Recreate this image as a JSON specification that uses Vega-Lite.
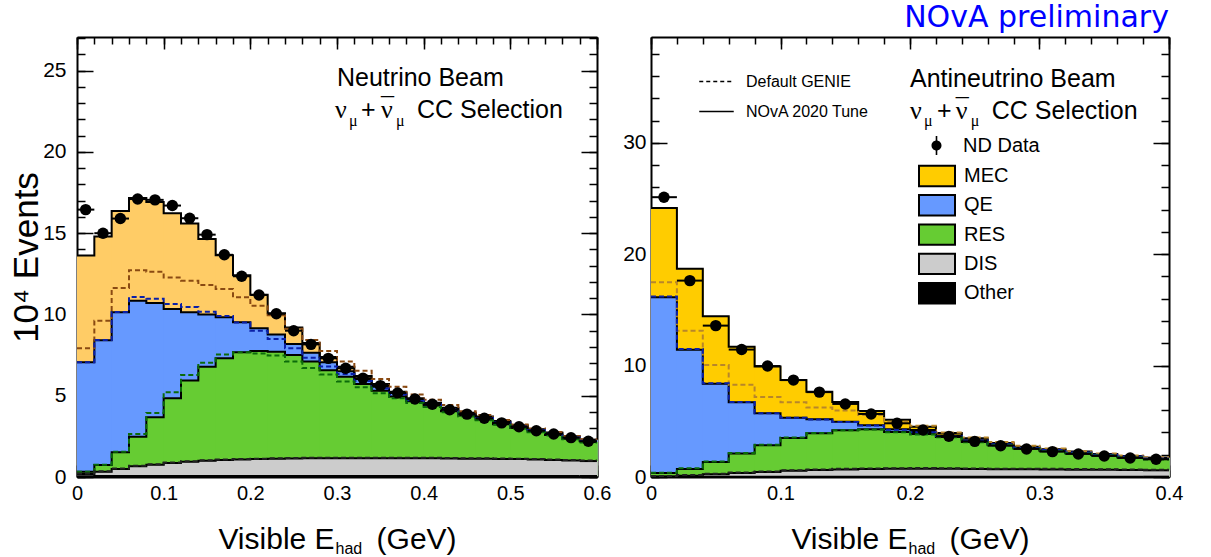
{
 "$schema": "https://vega.github.io/schema/vega-lite/v6.json",
 "background": "white",
 "padding": {"left": 9, "top": 3, "right": 5, "bottom": 0},
 "title": {"text": "NOvA preliminary", "anchor": "end", "fontSize": 30, "font": "DejaVu Sans", "fontWeight": "normal", "color": "#0000ff", "offset": 3, "dx": -14},
 "spacing": 11,
 "datasets": {
  "nu": [
   {"lo":0,"hi":0.02,"c":0.01,"data":16.45,"MEC":13.62,"QE":7.06,"RES":0.33,"DIS":0.18,"Other":0.05,"MECd":7.92,"QEd":7.06,"RESd":0.33,"DISd":0.21},
   {"lo":0.02,"hi":0.04,"c":0.03,"data":15.0,"MEC":14.8,"QE":8.42,"RES":0.74,"DIS":0.33,"Other":0.06,"MECd":9.62,"QEd":8.43,"RESd":0.76,"DISd":0.36},
   {"lo":0.04,"hi":0.06,"c":0.05,"data":15.9,"MEC":16.37,"QE":10.13,"RES":1.52,"DIS":0.49,"Other":0.06,"MECd":11.63,"QEd":10.15,"RESd":1.55,"DISd":0.52},
   {"lo":0.06,"hi":0.08,"c":0.07,"data":17.1,"MEC":17.17,"QE":10.85,"RES":2.48,"DIS":0.66,"Other":0.06,"MECd":12.72,"QEd":11.08,"RESd":2.65,"DISd":0.69},
   {"lo":0.08,"hi":0.1,"c":0.09,"data":17.05,"MEC":16.92,"QE":10.71,"RES":3.67,"DIS":0.76,"Other":0.06,"MECd":12.62,"QEd":10.97,"RESd":3.94,"DISd":0.79},
   {"lo":0.1,"hi":0.12,"c":0.11,"data":16.7,"MEC":16.22,"QE":10.34,"RES":4.85,"DIS":0.86,"Other":0.06,"MECd":12.27,"QEd":10.65,"RESd":5.21,"DISd":0.89},
   {"lo":0.12,"hi":0.14,"c":0.13,"data":15.92,"MEC":15.59,"QE":10.13,"RES":5.93,"DIS":0.94,"Other":0.06,"MECd":12.08,"QEd":10.46,"RESd":6.28,"DISd":0.97},
   {"lo":0.14,"hi":0.16,"c":0.15,"data":14.91,"MEC":14.65,"QE":9.99,"RES":6.79,"DIS":1.0,"Other":0.06,"MECd":11.82,"QEd":10.17,"RESd":7.03,"DISd":1.03},
   {"lo":0.16,"hi":0.18,"c":0.17,"data":13.67,"MEC":13.64,"QE":9.83,"RES":7.3,"DIS":1.05,"Other":0.06,"MECd":11.57,"QEd":9.9,"RESd":7.53,"DISd":1.08},
   {"lo":0.18,"hi":0.2,"c":0.19,"data":12.35,"MEC":12.41,"QE":9.52,"RES":7.67,"DIS":1.08,"Other":0.06,"MECd":11.06,"QEd":9.5,"RESd":7.67,"DISd":1.11},
   {"lo":0.2,"hi":0.22,"c":0.21,"data":11.2,"MEC":11.22,"QE":9.15,"RES":7.75,"DIS":1.1,"Other":0.06,"MECd":10.54,"QEd":9.0,"RESd":7.6,"DISd":1.13},
   {"lo":0.22,"hi":0.24,"c":0.23,"data":10.04,"MEC":10.08,"QE":8.76,"RES":7.7,"DIS":1.12,"Other":0.06,"MECd":9.95,"QEd":8.49,"RESd":7.47,"DISd":1.15},
   {"lo":0.24,"hi":0.26,"c":0.25,"data":9.0,"MEC":9.2,"QE":8.18,"RES":7.5,"DIS":1.14,"Other":0.06,"MECd":9.12,"QEd":7.92,"RESd":7.1,"DISd":1.17},
   {"lo":0.26,"hi":0.28,"c":0.27,"data":8.16,"MEC":8.24,"QE":7.64,"RES":7.1,"DIS":1.15,"Other":0.06,"MECd":8.43,"QEd":7.33,"RESd":6.71,"DISd":1.18},
   {"lo":0.28,"hi":0.3,"c":0.29,"data":7.3,"MEC":7.38,"QE":7.06,"RES":6.56,"DIS":1.15,"Other":0.06,"MECd":7.75,"QEd":6.8,"RESd":6.3,"DISd":1.18},
   {"lo":0.3,"hi":0.32,"c":0.31,"data":6.69,"MEC":6.78,"QE":6.5,"RES":6.17,"DIS":1.16,"Other":0.06,"MECd":7.11,"QEd":6.34,"RESd":5.88,"DISd":1.19},
   {"lo":0.32,"hi":0.34,"c":0.33,"data":6.08,"MEC":6.22,"QE":6.03,"RES":5.72,"DIS":1.16,"Other":0.06,"MECd":6.54,"QEd":5.9,"RESd":5.52,"DISd":1.19},
   {"lo":0.34,"hi":0.36,"c":0.35,"data":5.62,"MEC":5.72,"QE":5.56,"RES":5.31,"DIS":1.16,"Other":0.06,"MECd":6.03,"QEd":5.45,"RESd":5.15,"DISd":1.19},
   {"lo":0.36,"hi":0.38,"c":0.37,"data":5.17,"MEC":5.25,"QE":5.17,"RES":4.95,"DIS":1.15,"Other":0.06,"MECd":5.56,"QEd":5.07,"RESd":4.84,"DISd":1.18},
   {"lo":0.38,"hi":0.4,"c":0.39,"data":4.8,"MEC":4.84,"QE":4.8,"RES":4.66,"DIS":1.15,"Other":0.06,"MECd":5.07,"QEd":4.72,"RESd":4.55,"DISd":1.18},
   {"lo":0.4,"hi":0.42,"c":0.41,"data":4.48,"MEC":4.57,"QE":4.52,"RES":4.4,"DIS":1.15,"Other":0.06,"MECd":4.76,"QEd":4.47,"RESd":4.3,"DISd":1.18},
   {"lo":0.42,"hi":0.44,"c":0.43,"data":4.14,"MEC":4.26,"QE":4.21,"RES":4.05,"DIS":1.14,"Other":0.06,"MECd":4.43,"QEd":4.17,"RESd":3.98,"DISd":1.17},
   {"lo":0.44,"hi":0.46,"c":0.45,"data":3.87,"MEC":3.95,"QE":3.9,"RES":3.78,"DIS":1.13,"Other":0.06,"MECd":4.05,"QEd":3.86,"RESd":3.72,"DISd":1.16},
   {"lo":0.46,"hi":0.48,"c":0.47,"data":3.61,"MEC":3.72,"QE":3.67,"RES":3.54,"DIS":1.12,"Other":0.06,"MECd":3.82,"QEd":3.63,"RESd":3.49,"DISd":1.15},
   {"lo":0.48,"hi":0.5,"c":0.49,"data":3.33,"MEC":3.44,"QE":3.39,"RES":3.25,"DIS":1.11,"Other":0.06,"MECd":3.5,"QEd":3.35,"RESd":3.21,"DISd":1.14},
   {"lo":0.5,"hi":0.52,"c":0.51,"data":3.09,"MEC":3.18,"QE":3.13,"RES":3.01,"DIS":1.1,"Other":0.06,"MECd":3.23,"QEd":3.1,"RESd":2.97,"DISd":1.13},
   {"lo":0.52,"hi":0.54,"c":0.53,"data":2.85,"MEC":2.94,"QE":2.9,"RES":2.8,"DIS":1.08,"Other":0.06,"MECd":2.98,"QEd":2.87,"RESd":2.76,"DISd":1.11},
   {"lo":0.54,"hi":0.56,"c":0.55,"data":2.65,"MEC":2.74,"QE":2.69,"RES":2.59,"DIS":1.05,"Other":0.06,"MECd":2.77,"QEd":2.66,"RESd":2.55,"DISd":1.08},
   {"lo":0.56,"hi":0.58,"c":0.57,"data":2.42,"MEC":2.5,"QE":2.46,"RES":2.36,"DIS":1.02,"Other":0.06,"MECd":2.52,"QEd":2.43,"RESd":2.33,"DISd":1.05},
   {"lo":0.58,"hi":0.6,"c":0.59,"data":2.2,"MEC":2.3,"QE":2.26,"RES":2.15,"DIS":0.98,"Other":0.06,"MECd":2.32,"QEd":2.23,"RESd":2.12,"DISd":1.01}
  ],
  "anu": [
   {"lo":0,"hi":0.02,"c":0.01,"data":25.12,"MEC":24.15,"QE":16.14,"RES":0.35,"DIS":0.05,"Other":0.03,"MECd":17.49,"QEd":16.2,"RESd":0.38,"DISd":0.1},
   {"lo":0.02,"hi":0.04,"c":0.03,"data":17.63,"MEC":18.7,"QE":11.43,"RES":0.72,"DIS":0.12,"Other":0.03,"MECd":13.14,"QEd":11.5,"RESd":0.78,"DISd":0.17},
   {"lo":0.04,"hi":0.06,"c":0.05,"data":13.59,"MEC":14.43,"QE":8.38,"RES":1.35,"DIS":0.25,"Other":0.03,"MECd":10.06,"QEd":8.42,"RESd":1.4,"DISd":0.3},
   {"lo":0.06,"hi":0.08,"c":0.07,"data":11.44,"MEC":11.7,"QE":6.71,"RES":2.1,"DIS":0.35,"Other":0.03,"MECd":8.28,"QEd":6.73,"RESd":2.15,"DISd":0.4},
   {"lo":0.08,"hi":0.1,"c":0.09,"data":9.96,"MEC":9.91,"QE":5.72,"RES":2.84,"DIS":0.45,"Other":0.03,"MECd":7.18,"QEd":5.73,"RESd":2.9,"DISd":0.5},
   {"lo":0.1,"hi":0.12,"c":0.11,"data":8.7,"MEC":8.7,"QE":5.33,"RES":3.5,"DIS":0.55,"Other":0.03,"MECd":6.7,"QEd":5.33,"RESd":3.55,"DISd":0.6},
   {"lo":0.12,"hi":0.14,"c":0.13,"data":7.62,"MEC":7.66,"QE":5.18,"RES":3.93,"DIS":0.62,"Other":0.03,"MECd":6.23,"QEd":5.17,"RESd":3.95,"DISd":0.67},
   {"lo":0.14,"hi":0.16,"c":0.15,"data":6.56,"MEC":6.74,"QE":4.95,"RES":4.19,"DIS":0.68,"Other":0.03,"MECd":5.96,"QEd":4.93,"RESd":4.2,"DISd":0.73},
   {"lo":0.16,"hi":0.18,"c":0.17,"data":5.66,"MEC":5.92,"QE":4.65,"RES":4.28,"DIS":0.72,"Other":0.03,"MECd":5.57,"QEd":4.62,"RESd":4.26,"DISd":0.77},
   {"lo":0.18,"hi":0.2,"c":0.19,"data":4.82,"MEC":5.13,"QE":4.28,"RES":4.05,"DIS":0.74,"Other":0.03,"MECd":4.95,"QEd":4.25,"RESd":4.02,"DISd":0.79},
   {"lo":0.2,"hi":0.22,"c":0.21,"data":4.22,"MEC":4.52,"QE":4.05,"RES":3.86,"DIS":0.75,"Other":0.03,"MECd":4.6,"QEd":4.02,"RESd":3.82,"DISd":0.8},
   {"lo":0.22,"hi":0.24,"c":0.23,"data":3.65,"MEC":3.95,"QE":3.72,"RES":3.6,"DIS":0.74,"Other":0.03,"MECd":4.0,"QEd":3.69,"RESd":3.56,"DISd":0.79},
   {"lo":0.24,"hi":0.26,"c":0.25,"data":3.2,"MEC":3.47,"QE":3.3,"RES":3.15,"DIS":0.72,"Other":0.03,"MECd":3.55,"QEd":3.27,"RESd":3.11,"DISd":0.77},
   {"lo":0.26,"hi":0.28,"c":0.27,"data":2.81,"MEC":3.05,"QE":2.97,"RES":2.88,"DIS":0.7,"Other":0.03,"MECd":3.15,"QEd":2.94,"RESd":2.84,"DISd":0.75},
   {"lo":0.28,"hi":0.3,"c":0.29,"data":2.52,"MEC":2.72,"QE":2.63,"RES":2.57,"DIS":0.7,"Other":0.03,"MECd":2.8,"QEd":2.6,"RESd":2.53,"DISd":0.75},
   {"lo":0.3,"hi":0.32,"c":0.31,"data":2.28,"MEC":2.5,"QE":2.45,"RES":2.36,"DIS":0.68,"Other":0.03,"MECd":2.55,"QEd":2.42,"RESd":2.32,"DISd":0.73},
   {"lo":0.32,"hi":0.34,"c":0.33,"data":2.07,"MEC":2.28,"QE":2.22,"RES":2.15,"DIS":0.66,"Other":0.03,"MECd":2.32,"QEd":2.19,"RESd":2.11,"DISd":0.71},
   {"lo":0.34,"hi":0.36,"c":0.35,"data":1.89,"MEC":2.07,"QE":2.03,"RES":1.97,"DIS":0.64,"Other":0.03,"MECd":2.12,"QEd":2.0,"RESd":1.93,"DISd":0.69},
   {"lo":0.36,"hi":0.38,"c":0.37,"data":1.71,"MEC":1.89,"QE":1.86,"RES":1.8,"DIS":0.62,"Other":0.03,"MECd":1.93,"QEd":1.83,"RESd":1.76,"DISd":0.67},
   {"lo":0.38,"hi":0.4,"c":0.39,"data":1.59,"MEC":1.74,"QE":1.68,"RES":1.62,"DIS":0.6,"Other":0.03,"MECd":1.78,"QEd":1.65,"RESd":1.58,"DISd":0.65}
  ],
  "annL": [
   {"k":"big","t":"Neutrino Beam","x":0.3,"y":24.06},
   {"k":"greek","t":"ν","x":0.2977,"y":22.09},
   {"k":"sub","t":"μ","x":0.3138,"y":21.6},
   {"k":"big","t":"+","x":0.3277,"y":22.09},
   {"k":"greek","t":"ν","x":0.3508,"y":22.09},
   {"k":"greek","t":"¯","x":0.3508,"y":22.3},
   {"k":"sub","t":"μ","x":0.3681,"y":21.6},
   {"k":"big","t":"CC Selection","x":0.3923,"y":22.09}
  ],
  "annR": [
   {"k":"big","t":"Antineutrino Beam","x":0.2,"y":35.03},
   {"k":"greek","t":"ν","x":0.2,"y":32.16},
   {"k":"sub","t":"μ","x":0.2108,"y":31.53},
   {"k":"big","t":"+","x":0.2208,"y":32.16},
   {"k":"greek","t":"ν","x":0.2354,"y":32.16},
   {"k":"greek","t":"¯","x":0.2354,"y":32.45},
   {"k":"sub","t":"μ","x":0.2469,"y":31.53},
   {"k":"big","t":"CC Selection","x":0.2631,"y":32.16}
  ]
 },
 "hconcat": [
  {
   "width": 520, "height": 440,
   "data": {"name": "nu"},
   "resolve": {"axis": {"x": "independent", "y": "independent"}},
   "layer": [
    {
     "mark": {"type": "rect", "x2Offset": 0.8},
     "encoding": {
      "x": {"field": "lo", "type": "quantitative", "scale": {"domain": [0, 0.6], "nice": false, "zero": false},
            "axis": {"orient": "bottom", "values": [0,0.1,0.2,0.3,0.4,0.5,0.6], "format": "~g", "tickSize": -12, "labelFontSize": 20, "labelPadding": 18, "title": "Visible E\u2002\u2002\u2009\u2009(GeV)", "titleFontSize": 30, "titleY": 71, "titleBaseline": "alphabetic"}},
      "x2": {"field": "hi"},
      "y": {"field": "MEC", "type": "quantitative", "scale": {"domain": [0, 27.07], "nice": false, "zero": false},
            "axis": {"orient": "left", "values": [0,5,10,15,20,25], "tickSize": -16, "labelFontSize": 21, "labelPadding": 27, "title": "10⁴ Events", "titleFontSize": 35, "titleX": -51, "titleBaseline": "middle"}},
      "y2": {"datum": 0},
      "fill": {"datum": "MEC", "type": "nominal", "scale": {"domain": ["MEC","QE","RES","DIS","Other"], "range": ["#ffcc66","#6699ff","#66cc33","#cccccc","#000000"]}, "legend": null}
     }
    },
    {"mark": {"type": "rect", "x2Offset": 0.8}, "encoding": {"x": {"field": "lo", "type": "quantitative", "axis": null}, "x2": {"field": "hi"}, "y": {"field": "QE", "type": "quantitative", "axis": null}, "y2": {"datum": 0}, "fill": {"datum": "QE", "type": "nominal", "legend": null}}},
    {"mark": {"type": "rect", "x2Offset": 0.8}, "encoding": {"x": {"field": "lo", "type": "quantitative", "axis": null}, "x2": {"field": "hi"}, "y": {"field": "RES", "type": "quantitative", "axis": null}, "y2": {"datum": 0}, "fill": {"datum": "RES", "type": "nominal", "legend": null}}},
    {"mark": {"type": "rect", "x2Offset": 0.8}, "encoding": {"x": {"field": "lo", "type": "quantitative", "axis": null}, "x2": {"field": "hi"}, "y": {"field": "DIS", "type": "quantitative", "axis": null}, "y2": {"datum": 0}, "fill": {"datum": "DIS", "type": "nominal", "legend": null}}},
    {"mark": {"type": "rect", "x2Offset": 0.8}, "encoding": {"x": {"field": "lo", "type": "quantitative", "axis": null}, "x2": {"field": "hi"}, "y": {"field": "Other", "type": "quantitative", "axis": null}, "y2": {"datum": 0}, "fill": {"datum": "Other", "type": "nominal", "legend": null}}},
    {
     "transform": [{"fold": ["MEC","QE","RES","DIS","Other"], "as": ["comp","top"]}],
     "mark": {"type": "line", "interpolate": "step-after", "color": "black", "strokeWidth": 2},
     "encoding": {
      "x": {"field": "lo", "type": "quantitative", "axis": {"orient": "bottom", "values": [0,0.02,0.04,0.06,0.08,0.1,0.12,0.14,0.16,0.18,0.2,0.22,0.24,0.26,0.28,0.3,0.32,0.34,0.36,0.38,0.4,0.42,0.44,0.46,0.48,0.5,0.52,0.54,0.56,0.58,0.6], "tickSize": -7, "labels": false, "domain": false, "title": null}},
      "y": {"field": "top", "type": "quantitative", "axis": {"orient": "left", "values": [0,1,2,3,4,5,6,7,8,9,10,11,12,13,14,15,16,17,18,19,20,21,22,23,24,25,26,27], "tickSize": -8, "labels": false, "domain": false, "title": null}},
      "detail": {"field": "comp"}
     }
    },
    {
     "transform": [{"filter": "datum.hi > 0.59"}, {"fold": ["MEC","QE","RES","DIS","Other"], "as": ["comp","top"]}],
     "mark": {"type": "rule", "color": "black", "strokeWidth": 2},
     "encoding": {
      "x": {"field": "lo", "type": "quantitative", "axis": {"orient": "bottom", "domain": false, "ticks": false, "labels": false, "title": "had", "titleFontSize": 16, "titleX": 258, "titleY": 76, "titleAlign": "left", "titleBaseline": "alphabetic"}},
      "x2": {"field": "hi"},
      "y": {"field": "top", "type": "quantitative", "axis": null}
     }
    },
    {
     "transform": [{"fold": ["MECd","QEd","RESd","DISd"], "as": ["comp","val"]}],
     "mark": {"type": "line", "interpolate": "step-after", "strokeWidth": 2, "strokeDash": [5, 3]},
     "encoding": {
      "x": {"field": "lo", "type": "quantitative", "axis": {"orient": "top", "values": [0,0.1,0.2,0.3,0.4,0.5,0.6], "tickSize": -12, "labels": false, "title": null}},
      "y": {"field": "val", "type": "quantitative", "axis": {"orient": "right", "values": [0,5,10,15,20,25], "tickSize": -16, "labels": false, "title": null}},
      "color": {"field": "comp", "type": "nominal", "scale": {"domain": ["MECd","QEd","RESd","DISd"], "range": ["#8a4a12","#0a1fa8","#0b6b0b","#222222"]}, "legend": null}
     }
    },
    {
     "transform": [{"filter": "datum.hi > 0.59"}, {"fold": ["MECd","QEd","RESd","DISd"], "as": ["comp","val"]}],
     "mark": {"type": "rule", "strokeWidth": 2, "strokeDash": [5, 3]},
     "encoding": {
      "x": {"field": "lo", "type": "quantitative", "axis": {"orient": "top", "values": [0,0.02,0.04,0.06,0.08,0.1,0.12,0.14,0.16,0.18,0.2,0.22,0.24,0.26,0.28,0.3,0.32,0.34,0.36,0.38,0.4,0.42,0.44,0.46,0.48,0.5,0.52,0.54,0.56,0.58,0.6], "tickSize": -7, "labels": false, "domain": false, "title": null}},
      "x2": {"field": "hi"},
      "y": {"field": "val", "type": "quantitative", "axis": {"orient": "right", "values": [0,1,2,3,4,5,6,7,8,9,10,11,12,13,14,15,16,17,18,19,20,21,22,23,24,25,26,27], "tickSize": -8, "labels": false, "domain": false, "title": null}},
      "color": {"field": "comp", "type": "nominal", "legend": null}
     }
    },
    {
     "mark": {"type": "rule", "color": "black", "strokeWidth": 2},
     "encoding": {
      "x": {"field": "lo", "type": "quantitative", "axis": null},
      "x2": {"field": "hi"},
      "y": {"field": "data", "type": "quantitative", "axis": null}
     }
    },
    {
     "mark": {"type": "point", "filled": true, "shape": "circle", "size": 130, "color": "black", "opacity": 1},
     "encoding": {
      "x": {"field": "c", "type": "quantitative", "axis": null},
      "y": {"field": "data", "type": "quantitative", "axis": null}
     }
    },
    {
     "data": {"name": "annL"},
     "transform": [{"filter": "datum.k == 'big'"}],
     "mark": {"type": "text", "align": "left", "baseline": "alphabetic", "font": "Liberation Sans", "fontSize": 25, "color": "black"},
     "encoding": {"x": {"field": "x", "type": "quantitative", "axis": null}, "y": {"field": "y", "type": "quantitative", "axis": null}, "text": {"field": "t"}}
    },
    {
     "data": {"name": "annL"},
     "transform": [{"filter": "datum.k == 'greek'"}],
     "mark": {"type": "text", "align": "left", "baseline": "alphabetic", "font": "Liberation Serif", "fontSize": 26, "color": "black"},
     "encoding": {"x": {"field": "x", "type": "quantitative", "axis": null}, "y": {"field": "y", "type": "quantitative", "axis": null}, "text": {"field": "t"}}
    },
    {
     "data": {"name": "annL"},
     "transform": [{"filter": "datum.k == 'sub'"}],
     "mark": {"type": "text", "align": "left", "baseline": "alphabetic", "font": "Liberation Serif", "fontSize": 16, "color": "black"},
     "encoding": {"x": {"field": "x", "type": "quantitative", "axis": null}, "y": {"field": "y", "type": "quantitative", "axis": null}, "text": {"field": "t"}}
    }
   ]
  },
  {
   "width": 518, "height": 440,
   "data": {"name": "anu"},
   "resolve": {"axis": {"x": "independent", "y": "independent"}},
   "layer": [
    {
     "mark": {"type": "rect", "x2Offset": 0.8},
     "encoding": {
      "x": {"field": "lo", "type": "quantitative", "scale": {"domain": [0, 0.4], "nice": false, "zero": false},
            "axis": {"orient": "bottom", "values": [0,0.1,0.2,0.3,0.4], "format": "~g", "tickSize": -12, "labelFontSize": 20, "labelPadding": 18, "title": "Visible E\u2002\u2002\u2009\u2009(GeV)", "titleFontSize": 30, "titleY": 71, "titleBaseline": "alphabetic"}},
      "x2": {"field": "hi"},
      "y": {"field": "MEC", "type": "quantitative", "scale": {"domain": [0, 39.5], "nice": false, "zero": false},
            "axis": {"orient": "left", "values": [0,10,20,30], "tickSize": -16, "labelFontSize": 21, "labelPadding": 21, "title": null}},
      "y2": {"datum": 0},
      "fill": {"datum": "MEC", "type": "nominal", "scale": {"domain": ["MEC","QE","RES","DIS","Other"], "range": ["#ffcc00","#6699ff","#66cc33","#cccccc","#000000"]},
               "legend": {"orient": "none", "legendX": 273, "legendY": 126, "title": null, "symbolType": "M-1.5,-0.85L1.5,-0.85L1.5,0.85L-1.5,0.85Z", "symbolSize": 576, "symbolStrokeColor": "black", "symbolStrokeWidth": 2, "labelFontSize": 20, "labelOffset": 14, "rowPadding": -0.7,
                          "encode": {"symbols": {"update": {"stroke": {"value": "black"}, "strokeWidth": {"value": 2}}}}}}
     }
    },
    {"mark": {"type": "rect", "x2Offset": 0.8}, "encoding": {"x": {"field": "lo", "type": "quantitative", "axis": null}, "x2": {"field": "hi"}, "y": {"field": "QE", "type": "quantitative", "axis": null}, "y2": {"datum": 0}, "fill": {"datum": "QE", "type": "nominal"}}},
    {"mark": {"type": "rect", "x2Offset": 0.8}, "encoding": {"x": {"field": "lo", "type": "quantitative", "axis": null}, "x2": {"field": "hi"}, "y": {"field": "RES", "type": "quantitative", "axis": null}, "y2": {"datum": 0}, "fill": {"datum": "RES", "type": "nominal"}}},
    {"mark": {"type": "rect", "x2Offset": 0.8}, "encoding": {"x": {"field": "lo", "type": "quantitative", "axis": null}, "x2": {"field": "hi"}, "y": {"field": "DIS", "type": "quantitative", "axis": null}, "y2": {"datum": 0}, "fill": {"datum": "DIS", "type": "nominal"}}},
    {"mark": {"type": "rect", "x2Offset": 0.8}, "encoding": {"x": {"field": "lo", "type": "quantitative", "axis": null}, "x2": {"field": "hi"}, "y": {"field": "Other", "type": "quantitative", "axis": null}, "y2": {"datum": 0}, "fill": {"datum": "Other", "type": "nominal"}}},
    {
     "transform": [{"fold": ["MEC","QE","RES","DIS","Other"], "as": ["comp","top"]}],
     "mark": {"type": "line", "interpolate": "step-after", "color": "black", "strokeWidth": 2},
     "encoding": {
      "x": {"field": "lo", "type": "quantitative", "axis": {"orient": "bottom", "values": [0,0.02,0.04,0.06,0.08,0.1,0.12,0.14,0.16,0.18,0.2,0.22,0.24,0.26,0.28,0.3,0.32,0.34,0.36,0.38,0.4], "tickSize": -7, "labels": false, "domain": false, "title": null}},
      "y": {"field": "top", "type": "quantitative", "axis": {"orient": "left", "values": [0,2,4,6,8,10,12,14,16,18,20,22,24,26,28,30,32,34,36,38], "tickSize": -8, "labels": false, "domain": false, "title": null}},
      "detail": {"field": "comp"}
     }
    },
    {
     "transform": [{"filter": "datum.hi > 0.39"}, {"fold": ["MEC","QE","RES","DIS","Other"], "as": ["comp","top"]}],
     "mark": {"type": "rule", "color": "black", "strokeWidth": 2},
     "encoding": {
      "x": {"field": "lo", "type": "quantitative", "axis": {"orient": "bottom", "domain": false, "ticks": false, "labels": false, "title": "had", "titleFontSize": 16, "titleX": 257, "titleY": 76, "titleAlign": "left", "titleBaseline": "alphabetic"}},
      "x2": {"field": "hi"},
      "y": {"field": "top", "type": "quantitative", "axis": null}
     }
    },
    {
     "transform": [{"fold": ["MECd","QEd","RESd","DISd"], "as": ["comp","val"]}],
     "mark": {"type": "line", "interpolate": "step-after", "strokeWidth": 2, "strokeDash": [5, 3]},
     "encoding": {
      "x": {"field": "lo", "type": "quantitative", "axis": {"orient": "top", "values": [0,0.1,0.2,0.3,0.4], "tickSize": -12, "labels": false, "title": null}},
      "y": {"field": "val", "type": "quantitative", "axis": {"orient": "right", "values": [0,10,20,30], "tickSize": -16, "labels": false, "title": null}},
      "color": {"field": "comp", "type": "nominal", "scale": {"domain": ["MECd","QEd","RESd","DISd"], "range": ["#b8862a","#0a1fa8","#0b6b0b","#222222"]}, "legend": null}
     }
    },
    {
     "transform": [{"filter": "datum.hi > 0.39"}, {"fold": ["MECd","QEd","RESd","DISd"], "as": ["comp","val"]}],
     "mark": {"type": "rule", "strokeWidth": 2, "strokeDash": [5, 3]},
     "encoding": {
      "x": {"field": "lo", "type": "quantitative", "axis": {"orient": "top", "values": [0,0.02,0.04,0.06,0.08,0.1,0.12,0.14,0.16,0.18,0.2,0.22,0.24,0.26,0.28,0.3,0.32,0.34,0.36,0.38,0.4], "tickSize": -7, "labels": false, "domain": false, "title": null}},
      "x2": {"field": "hi"},
      "y": {"field": "val", "type": "quantitative", "axis": {"orient": "right", "values": [0,2,4,6,8,10,12,14,16,18,20,22,24,26,28,30,32,34,36,38], "tickSize": -8, "labels": false, "domain": false, "title": null}},
      "color": {"field": "comp", "type": "nominal", "legend": null}
     }
    },
    {
     "mark": {"type": "rule", "color": "black", "strokeWidth": 2},
     "encoding": {
      "x": {"field": "lo", "type": "quantitative", "axis": null},
      "x2": {"field": "hi"},
      "y": {"field": "data", "type": "quantitative", "axis": null}
     }
    },
    {
     "mark": {"type": "point", "filled": true, "shape": "circle", "size": 130, "color": "black", "opacity": 1},
     "encoding": {
      "x": {"field": "c", "type": "quantitative", "axis": null},
      "y": {"field": "data", "type": "quantitative", "axis": null}
     }
    },
    {
     "data": {"name": "annR"},
     "transform": [{"filter": "datum.k == 'big'"}],
     "mark": {"type": "text", "align": "left", "baseline": "alphabetic", "font": "Liberation Sans", "fontSize": 25, "color": "black"},
     "encoding": {"x": {"field": "x", "type": "quantitative", "axis": null}, "y": {"field": "y", "type": "quantitative", "axis": null}, "text": {"field": "t"}}
    },
    {
     "data": {"name": "annR"},
     "transform": [{"filter": "datum.k == 'greek'"}],
     "mark": {"type": "text", "align": "left", "baseline": "alphabetic", "font": "Liberation Serif", "fontSize": 26, "color": "black"},
     "encoding": {"x": {"field": "x", "type": "quantitative", "axis": null}, "y": {"field": "y", "type": "quantitative", "axis": null}, "text": {"field": "t"}}
    },
    {
     "data": {"name": "annR"},
     "transform": [{"filter": "datum.k == 'sub'"}],
     "mark": {"type": "text", "align": "left", "baseline": "alphabetic", "font": "Liberation Serif", "fontSize": 16, "color": "black"},
     "encoding": {"x": {"field": "x", "type": "quantitative", "axis": null}, "y": {"field": "y", "type": "quantitative", "axis": null}, "text": {"field": "t"}}
    },
    {
     "transform": [{"filter": "false"}],
     "mark": {"type": "rule"},
     "encoding": {
      "y": {"field": "data", "type": "quantitative", "axis": null},
      "strokeDash": {"field": "style", "type": "nominal", "scale": {"domain": ["Default GENIE", "NOvA 2020 Tune"], "range": [[4, 3], [1, 0]]},
                     "legend": {"orient": "none", "legendX": 53, "legendY": 32, "title": null, "symbolType": "M-1.5,0L1.5,0", "symbolSize": 529, "symbolStrokeColor": "black", "symbolFillColor": "transparent", "symbolStrokeWidth": 1.5, "labelFontSize": 16, "labelOffset": 17, "rowPadding": 9}}
     }
    },
    {
     "transform": [{"filter": "false"}],
     "mark": {"type": "point", "filled": true, "color": "black", "opacity": 1},
     "encoding": {
      "x": {"field": "c", "type": "quantitative", "axis": null},
      "y": {"field": "data", "type": "quantitative", "axis": null},
      "shape": {"datum": "ND Data", "type": "nominal", "scale": {"range": ["M-0.08,-0.95L0.08,-0.95L0.08,0.95L-0.08,0.95ZM-0.5,0A0.5,0.5 0 1,1 0.5,0A0.5,0.5 0 1,1 -0.5,0Z"]},
                "legend": {"orient": "none", "legendX": 275, "legendY": 98, "title": null, "symbolType": "M-0.08,-0.95L0.08,-0.95L0.08,0.95L-0.08,0.95ZM-0.5,0A0.5,0.5 0 1,1 0.5,0A0.5,0.5 0 1,1 -0.5,0Z", "symbolSize": 400, "symbolFillColor": "black", "symbolStrokeColor": "black", "symbolStrokeWidth": 1, "labelFontSize": 20, "labelOffset": 16,
                           "encode": {"symbols": {"update": {"fill": {"value": "black"}, "stroke": {"value": "black"}, "strokeWidth": {"value": 1}, "opacity": {"value": 1}, "fillOpacity": {"value": 1}}}}}}
     }
    }
   ]
  }
 ],
 "resolve": {"scale": {"fill": "independent", "stroke": "independent", "color": "independent", "strokeDash": "independent", "shape": "independent"}},
 "config": {
  "view": {"stroke": null},
  "font": "Liberation Sans",
  "axis": {"grid": false, "domainColor": "black", "domainWidth": 2, "tickColor": "black", "tickWidth": 1.5, "labelColor": "black", "titleColor": "black", "labelFont": "Liberation Sans", "titleFont": "Liberation Sans", "titleFontWeight": "normal", "labelFlush": false, "labelOverlap": false},
  "legend": {"labelFont": "Liberation Sans", "labelColor": "black", "padding": 0, "titlePadding": 0},
  "text": {"font": "Liberation Sans"}
 }
}
